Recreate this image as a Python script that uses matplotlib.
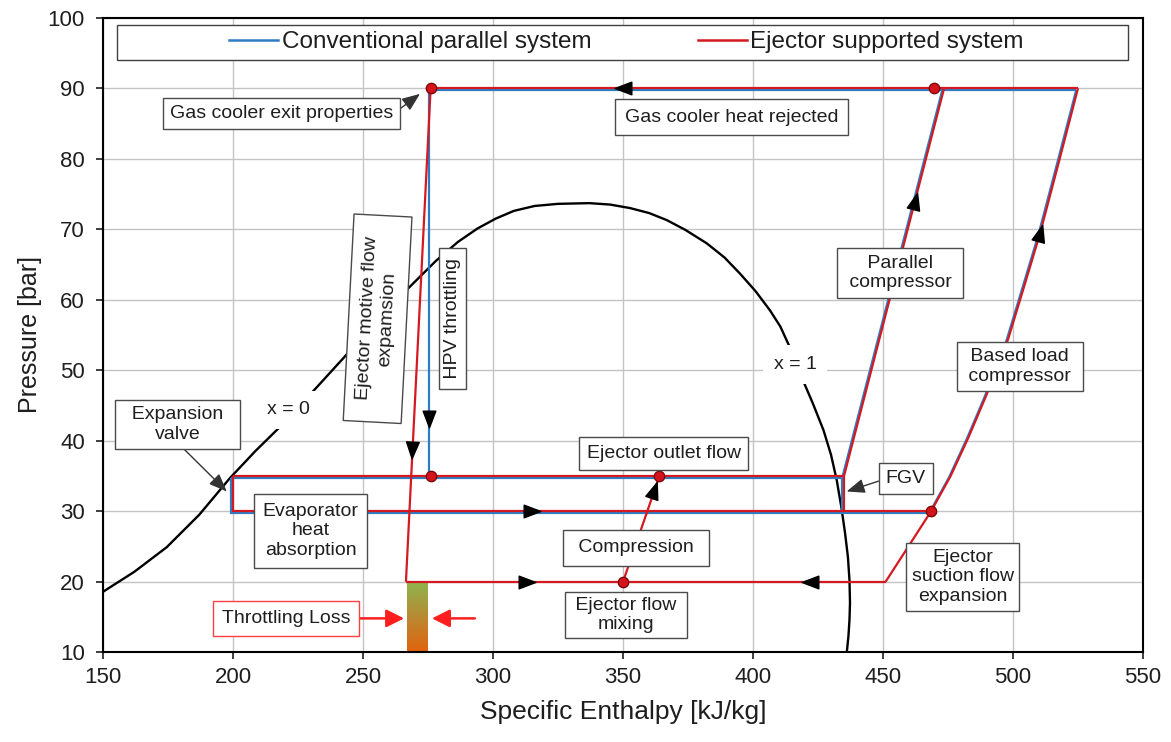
import numpy as np
import matplotlib
matplotlib.use("Agg")
import matplotlib.pyplot as plt
from matplotlib.colors import LinearSegmentedColormap
from matplotlib.markers import MarkerStyle
from matplotlib.path import Path
from matplotlib.lines import Line2D
from matplotlib.patches import Rectangle
from matplotlib.transforms import Affine2D, offset_copy

plt.rcParams["font.family"] = ["Liberation Sans", "DejaVu Sans"]

# ---------------- data ----------------
# CO2 saturation dome: liquid branch (x = 0) up to the critical point, then vapour branch (x = 1)
dome_h = [150.1, 162.0, 174.5, 187.0, 198.8, 208.5, 218.7, 231.5, 242.4, 255.0, 268.7,
          278.0, 286.5, 294.0, 301.0, 308.0, 316.0, 325.0, 337.0, 345.0, 352.7, 360.0,
          366.8, 374.0, 382.2, 389.0, 395.0, 401.0, 406.5, 410.5, 413.6, 416.8, 419.4,
          423.0, 427.1, 430.0, 432.2, 434.0, 435.4, 436.5, 437.1, 437.3, 437.1, 436.7,
          436.1]
dome_p = [18.6, 21.4, 24.9, 29.5, 34.7, 38.5, 42.2, 47.3, 51.7, 57.0, 62.1,
          65.5, 68.2, 70.1, 71.5, 72.6, 73.3, 73.6, 73.7, 73.5, 73.0, 72.3,
          71.3, 69.9, 68.0, 66.0, 63.7, 61.2, 58.5, 56.2, 53.7, 51.2, 48.4,
          45.3, 41.5, 38.0, 34.4, 30.5, 26.9, 23.5, 20.2, 17.0, 14.6, 12.3,
          10.1]

# process lines shared by both systems (h in kJ/kg, p in bar)
gas_cooler_h, gas_cooler_p = [525.0, 276.0], [90.0, 90.0]
receiver_h, receiver_p = [200.0, 435.0], [35.0, 35.0]
evaporator_h, evaporator_p = [200.0, 200.0, 468.5], [35.0, 30.0, 30.0]
fgv_h, fgv_p = [435.0, 435.0], [35.0, 30.0]
parallel_h, parallel_p = [435.0, 473.5], [35.0, 90.0]
base_load_h = [468.5, 476.0, 482.9, 489.8, 498.2, 504.2, 510.4, 517.6, 525.0]
base_load_p = [30.0, 35.0, 40.5, 46.5, 54.5, 61.8, 69.4, 79.5, 90.0]

# conventional system only
hpv_h, hpv_p = [276.0, 276.0], [90.0, 35.0]

# ejector system only
motive_h, motive_p = [276.0, 266.5], [90.0, 20.0]
mixing_line_h, mixing_line_p = [266.5, 451.0], [20.0, 20.0]
suction_h, suction_p = [451.0, 468.5], [20.0, 30.0]
compression_h, compression_p = [350.0, 364.0], [20.0, 35.0]

# state points marked with dots
dots_h = [276.0, 469.5, 276.0, 364.0, 350.0, 468.5]
dots_p = [90.0, 90.0, 35.0, 35.0, 20.0, 30.0]

# flow-direction arrowheads: position and direction (dh, dp)
flow_h = [350.0, 462.3, 510.4, 315.0, 313.0, 422.0, 362.1]
flow_p = [90.0, 74.0, 69.4, 30.0, 20.0, 20.0, 33.0]
flow_dir = [(-1, 0), (38.5, 55.0), (26.8, 35.5), (1, 0), (1, 0), (-1, 0), (14.0, 15.0)]
hpv_arrow = (276.0, 43.4, (0, -1))
motive_arrow = (269.0, 38.7, (-9.5, -70.0))

# throttling loss span at the low (suction) pressure
throttle_h = [267.0, 275.0]
throttle_p = [10.0, 20.0]

BLUE = "#2e7cc4"
RED = "#d41920"
TXT = "#1e1e1e"
EDGE = "#4a4a4a"

# ---------------- figure ----------------
fig = plt.figure(figsize=(11.71, 7.42), dpi=100)
ax = fig.add_axes([0.0880, 0.1210, 0.8881, 0.8551])
ax.set_xlim(150, 550)
ax.set_ylim(10, 100)
ax.set_xticks(np.arange(150, 551, 50))
ax.set_yticks(np.arange(10, 101, 10))
ax.grid(True, color="#c4c4c4", lw=1.0)
ax.set_axisbelow(True)
for s in ax.spines.values():
    s.set_linewidth(1.5)
    s.set_color("black")
ax.tick_params(direction="out", length=5, width=1.2, labelsize=16, pad=6, colors=TXT)
ax.tick_params(axis="y", pad=8)
ax.set_xlabel("Specific Enthalpy [kJ/kg]", fontsize=19, labelpad=8, color=TXT)
ax.set_ylabel("Pressure [bar]", fontsize=18, labelpad=4, color=TXT)

blue_tr = offset_copy(ax.transData, fig=fig, x=-1.8, y=-1.8, units="dots")

# saturation dome
ax.plot(dome_h, dome_p, color="black", lw=1.7, zorder=2.5, solid_joinstyle="round")

# throttling loss gradient bar
grad = np.linspace(0, 1, 256).reshape(-1, 1)
cmap = LinearSegmentedColormap.from_list("loss", ["#e2620e", "#b98a32", "#8cb64e"])
ax.imshow(grad, extent=[throttle_h[0], throttle_h[1], throttle_p[0], throttle_p[1]],
          origin="lower", cmap=cmap, aspect="auto", zorder=2.2)

shared = [(gas_cooler_h, gas_cooler_p), (receiver_h, receiver_p),
          (evaporator_h, evaporator_p), (fgv_h, fgv_p), (parallel_h, parallel_p),
          (base_load_h, base_load_p)]
for h, p in shared + [(hpv_h, hpv_p)]:
    ax.plot(h, p, color=BLUE, lw=1.6, transform=blue_tr, zorder=3,
            solid_joinstyle="miter", solid_capstyle="butt")
for h, p in shared + [(motive_h, motive_p), (mixing_line_h, mixing_line_p),
                      (suction_h, suction_p), (compression_h, compression_p)]:
    ax.plot(h, p, color=RED, lw=1.6, zorder=3.5,
            solid_joinstyle="miter", solid_capstyle="butt")

ax.plot(dots_h, dots_p, ls="none", marker="o", ms=7.5, mfc="#d4141c", mec="#7a0000",
        mew=0.9, zorder=5)

tri = Path([(0, 0.5), (-0.38, -0.5), (0.38, -0.5), (0, 0.5)],
           [Path.MOVETO, Path.LINETO, Path.LINETO, Path.CLOSEPOLY])


def flow_arrow(h, p, d, tr):
    x0, y0 = ax.transData.transform((h, p))
    x1, y1 = ax.transData.transform((h + d[0], p + d[1]))
    ang = np.degrees(np.arctan2(y1 - y0, x1 - x0)) - 90
    m = MarkerStyle(tri, transform=Affine2D().rotate_deg(ang))
    ax.plot([h], [p], ls="none", marker=m, ms=12, color="black", transform=tr, zorder=5)


for h, p, d in zip(flow_h, flow_p, flow_dir):
    flow_arrow(h, p, d, ax.transData)
flow_arrow(hpv_arrow[0], hpv_arrow[1], hpv_arrow[2], blue_tr)
flow_arrow(motive_arrow[0], motive_arrow[1], motive_arrow[2], ax.transData)

# ---------------- labels ----------------
FS = 14


def box(pad, ec=EDGE):
    return dict(boxstyle=f"square,pad={pad}", fc="white", ec=ec, lw=1.0)


def label(h, p, s, pad, rot=0, ec=EDGE, **kw):
    ax.text(h, p, s, ha="center", va="center", fontsize=FS, color=TXT, rotation=rot,
            rotation_mode="anchor", multialignment="center", bbox=box(pad, ec),
            zorder=6, **kw)


pointer = dict(arrowstyle="-|>,head_length=0.55,head_width=0.22", color="#333333",
               lw=1.0, mutation_scale=20, shrinkA=0, shrinkB=0)

ax.annotate("Gas cooler exit properties", xy=(271.9, 89.2), xytext=(218.8, 86.4),
            ha="center", va="center", fontsize=FS, color=TXT, bbox=box(0.35), zorder=6,
            arrowprops=dict(pointer, relpos=(1.0, 0.5)))
label(391.9, 85.9, "Gas cooler heat rejected", 0.5)
label(255.6, 57.3, "  Ejector motive flow  \nexpamsion", 0.55, rot=87)
label(284.4, 57.3, " HPV throttling ", 0.25, rot=90)
ax.annotate("  Expansion  \nvalve", xy=(197.6, 32.8), xytext=(178.7, 42.3),
            ha="center", va="center", fontsize=FS, color=TXT, bbox=box(0.3), zorder=6,
            multialignment="center", arrowprops=dict(pointer, relpos=(0.5, 0.0)))
label(229.8, 27.2, "Evaporator\nheat\nabsorption", 0.45)
label(365.6, 38.2, "Ejector outlet flow", 0.4)
ax.annotate("FGV", xy=(436.0, 32.8), xytext=(458.8, 34.6),
            ha="center", va="center", fontsize=FS, color=TXT, bbox=box(0.35), zorder=6,
            arrowprops=dict(pointer, relpos=(0.0, 0.5)))
label(354.9, 24.8, " Compression ", 0.5)
label(351.2, 15.3, " Ejector flow \nmixing", 0.25)
label(480.6, 20.7, "Ejector\nsuction flow\nexpansion", 0.3)
label(456.7, 63.8, " Parallel \n compressor ", 0.33)
label(502.7, 50.5, " Based load \n compressor ", 0.33)

for h, p, s in [(221.3, 44.4, "x = 0"), (416.2, 50.8, "x = 1")]:
    ax.text(h, p, s, ha="center", va="center", fontsize=FS, color=TXT, zorder=6,
            bbox=dict(boxstyle="square,pad=0.55", fc="white", ec="none"))

# throttling loss callout
red_arrow = dict(arrowstyle="-|>,head_length=0.6,head_width=0.3", color="#ff1f1f",
                 lw=1.8, mutation_scale=18, shrinkA=0, shrinkB=0)
ax.annotate("Throttling Loss", xy=(265.8, 14.8), xytext=(220.4, 14.8),
            ha="center", va="center", fontsize=FS, color=TXT,
            bbox=box(0.45, ec="#ff4040"), zorder=6,
            arrowprops=dict(red_arrow, relpos=(1.0, 0.5)))
ax.annotate("", xy=(276.5, 14.8), xytext=(293.0, 14.8), arrowprops=red_arrow, zorder=6)

# legend
ax.add_patch(Rectangle((155.4, 94.0), 388.8, 5.0, fc="white", ec="#404040", lw=1.0,
                       zorder=6))
handles = [Line2D([], [], color=BLUE, lw=1.8), Line2D([], [], color=RED, lw=1.8)]
leg = ax.legend(handles, ["Conventional parallel system", "Ejector supported system"],
                loc="center", bbox_to_anchor=(0.5034, 0.961), ncol=2, frameon=False,
                fontsize=17.5, handlelength=2.0, handletextpad=0.15, columnspacing=4.4,
                borderpad=0.1)
for t in leg.get_texts():
    t.set_color(TXT)
leg.set_zorder(7)

fig.savefig("out.png", dpi=100)
